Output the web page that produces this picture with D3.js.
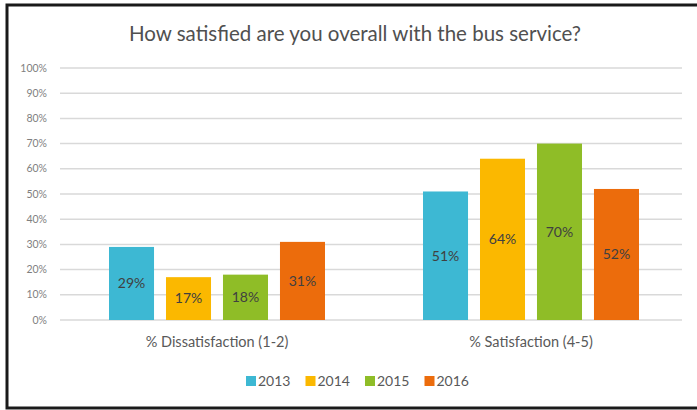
<!DOCTYPE html>
<html>
<head>
<meta charset="utf-8">
<script src="https://cdn.jsdelivr.net/npm/d3@7"></script>
<style>
  body { margin: 0; background: #fff; }
  text { font-family: Lato, "Open Sans", sans-serif; }
</style>
</head>
<body>
<div id="chart"></div>
<script>
const categories = ["% Dissatisfaction (1-2)", "% Satisfaction (4-5)"];
const years = ["2013", "2014", "2015", "2016"];
const values2013 = [29, 51];
const values2014 = [17, 64];
const values2015 = [18, 70];
const values2016 = [31, 52];
const yTicks = [0, 10, 20, 30, 40, 50, 60, 70, 80, 90, 100];
const colors = ["#3db8d3", "#fbb800", "#8fbd27", "#ec6c0c"];

const seriesValues = [values2013, values2014, values2015, values2016];
const data = categories.map((c, i) => ({
    category: c,
    values: years.map((y, j) => ({ year: y, value: seriesValues[j][i] }))
}));

const width = 697;
const height = 410;
const margin = { top: 68, right: 9, bottom: 90, left: 60 };

const svg = d3.select("#chart")
    .append("svg")
    .attr("width", width)
    .attr("height", height);

// outer frame
svg.append("rect")
    .attr("x", 7)
    .attr("y", 5)
    .attr("width", width + 10)
    .attr("height", 403)
    .attr("fill", "#fff")
    .attr("stroke", "#1a1a1a")
    .attr("stroke-width", 3);

const x0 = d3.scaleBand()
    .domain(categories)
    .range([margin.left, width - margin.right]);

const x1 = d3.scaleBand()
    .domain(years)
    .range([0, 216])
    .paddingInner(0.21);

const y = d3.scaleLinear()
    .domain([0, 100])
    .range([height - margin.bottom, margin.top]);

// gridlines
svg.append("g")
    .selectAll("line")
    .data(yTicks)
    .enter()
    .append("line")
    .attr("x1", margin.left)
    .attr("x2", width - margin.right - 6)
    .attr("y1", (d) => y(d))
    .attr("y2", (d) => y(d))
    .attr("stroke", "#d9d9d9")
    .attr("stroke-width", 1.5);

svg.append("g")
    .selectAll("text")
    .data(yTicks)
    .enter()
    .append("text")
    .attr("x", 47)
    .attr("y", (d) => y(d))
    .attr("dy", "0.35em")
    .attr("text-anchor", "end")
    .style("font-size", "10.5px")
    .style("fill", "#7f7f7f")
    .text((d) => d + "%");

const groups = svg.append("g")
    .selectAll("g")
    .data(data)
    .enter()
    .append("g")
    .attr("transform", (d) => `translate(${x0(d.category) + (x0.bandwidth() - 216) / 2},0)`);

groups.selectAll("rect")
    .data((d) => d.values)
    .enter()
    .append("rect")
    .attr("x", (d) => x1(d.year))
    .attr("y", (d) => y(d.value))
    .attr("width", x1.bandwidth())
    .attr("height", (d) => y(0) - y(d.value))
    .attr("fill", (d, i) => colors[i]);

groups.selectAll(".bar-label")
    .data((d) => d.values)
    .enter()
    .append("text")
    .attr("class", "bar-label")
    .attr("x", (d) => x1(d.year) + x1.bandwidth() / 2)
    .attr("y", (d) => (y(d.value) + y(0)) / 2)
    .attr("dy", "0.35em")
    .attr("text-anchor", "middle")
    .style("font-size", "14px")
    .style("fill", "#404040")
    .text((d) => d.value + "%");

// category labels
svg.append("g")
    .selectAll("text")
    .data(categories)
    .enter()
    .append("text")
    .attr("x", (d) => x0(d) + x0.bandwidth() / 2)
    .attr("y", 347)
    .attr("text-anchor", "middle")
    .style("font-size", "14.5px")
    .style("fill", "#595959")
    .text((d) => d);

// title
svg.append("text")
    .attr("x", 355)
    .attr("y", 41)
    .attr("text-anchor", "middle")
    .style("font-size", "20.5px")
    .style("fill", "#505050")
    .text("How satisfied are you overall with the bus service?");

// legend
const legend = svg.append("g")
    .attr("transform", "translate(246,381)");

const legendItems = legend.selectAll("g")
    .data(years)
    .enter()
    .append("g")
    .attr("transform", (d, i) => `translate(${i * 59.5},0)`);

legendItems.append("rect")
    .attr("x", 0)
    .attr("y", -5)
    .attr("width", 10)
    .attr("height", 10)
    .attr("fill", (d, i) => colors[i]);

legendItems.append("text")
    .attr("x", 12)
    .attr("y", 0)
    .attr("dy", "0.35em")
    .style("font-size", "14px")
    .style("fill", "#595959")
    .text((d) => d);
</script>
</body>
</html>
